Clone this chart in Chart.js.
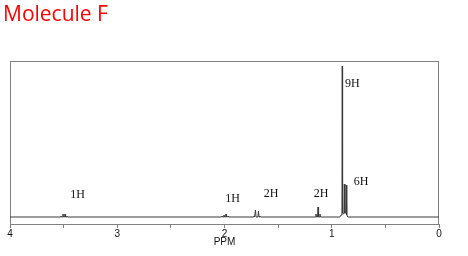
<!DOCTYPE html>
<html>
<head>
<meta charset="utf-8">
<script src="https://cdn.jsdelivr.net/npm/chart.js@4"></script>
<style>
  html, body { margin: 0; padding: 0; background: #fff; }
  #wrap { position: relative; width: 468px; height: 256px; }
  #title {
    position: absolute; left: 3px; top: 3px;
    font: 21px/21px "Open Sans", sans-serif; color: #ff0000;
  }
  canvas { position: absolute; left: 0; top: 0; }
</style>
</head>
<body>
<div id="wrap">
  <canvas id="nmrChart" width="468" height="256"></canvas>
  <div id="title">Molecule F</div>
</div>
<script>
// Spectrum trace (ppm, relative intensity)
const shift = [4.00,
  3.530, 3.525, 3.520, 3.511, 3.506, 3.501, 3.492, 3.487, 3.482, 3.474, 3.469, 3.464,
  2.028, 2.023, 2.018, 2.010, 2.005, 2.000, 1.991, 1.986, 1.981, 1.972, 1.967, 1.962,
  1.730, 1.725, 1.720, 1.716, 1.711, 1.706, 1.688, 1.683, 1.678, 1.674, 1.669, 1.664,
  1.152, 1.147, 1.142, 1.133, 1.128, 1.123, 1.115, 1.110, 1.105,
  0.925, 0.912, 0.905, 0.902, 0.899, 0.890, 0.886, 0.883, 0.878, 0.868, 0.865, 0.860, 0.850,
  0.00];
const intensity = [0,
  0, 1, 0, 0, 3, 0, 0, 3, 0, 0, 1, 0,
  0, 1, 0, 0, 2, 0, 0, 3, 0, 0, 1, 0,
  0, 1, 0, 0, 7, 0, 0, 6, 0, 0, 1, 0,
  0, 3, 0, 0, 10, 0, 0, 3, 0,
  0, 2, 4, 151, 4, 3, 4, 33, 4, 4, 32, 2, 0,
  0];

// Integration labels
const labelText = ['1H', '1H', '2H', '2H', '9H', '6H'];
const labelPpm = [3.371, 1.925, 1.566, 1.100, 0.807, 0.727];
const labelLevel = [22, 18, 23.5, 23.5, 133.5, 35];

// Axis
const axisMin = 0;
const axisMax = 4;
const axisStep = 0.5;

// Frame round the plot area
const framePlugin = {
  id: 'frame',
  beforeDatasetsDraw(chart) {
    const { ctx, chartArea: a } = chart;
    ctx.save();
    ctx.strokeStyle = '#808080';
    ctx.lineWidth = 1;
    ctx.strokeRect(a.left + 0.5, a.top + 0.5, a.right - a.left - 1, a.bottom - a.top);
    ctx.restore();
  }
};

// Integration text above the peaks
const labelPlugin = {
  id: 'peakLabels',
  afterDatasetsDraw(chart) {
    const { ctx, scales } = chart;
    ctx.save();
    ctx.font = '12px "Liberation Serif", serif';
    ctx.fillStyle = '#111';
    ctx.textAlign = 'center';
    ctx.textBaseline = 'middle';
    labelText.forEach((t, i) => {
      ctx.fillText(t, scales.x.getPixelForValue(labelPpm[i]), scales.y.getPixelForValue(labelLevel[i]));
    });
    ctx.restore();
  }
};

const ctx = document.getElementById('nmrChart').getContext('2d');

new Chart(ctx, {
  type: 'scatter',
  data: {
    datasets: [{
      data: shift.map((x, i) => ({ x: x, y: intensity[i] })),
      showLine: true,
      borderColor: '#3a3a3a',
      borderWidth: 1,
      pointRadius: 0,
      tension: 0
    }]
  },
  options: {
    responsive: false,
    animation: false,
    layout: { padding: { top: 61, left: 10, right: 29, bottom: 0 } },
    plugins: {
      legend: { display: false },
      tooltip: { enabled: false }
    },
    scales: {
      x: {
        type: 'linear',
        reverse: true,
        min: axisMin,
        max: axisMax,
        afterFit: function(scale) { scale.height = 32; },
        border: { color: '#808080', width: 1 },
        grid: { drawOnChartArea: false, tickLength: 4, color: '#808080' },
        ticks: {
          stepSize: axisStep,
          autoSkip: false,
          maxRotation: 0,
          padding: 0,
          color: '#111',
          font: { family: '"Liberation Sans", Arial, sans-serif', size: 10 },
          callback: function(value) {
            return Number.isInteger(value) ? String(value) : '';
          }
        },
        title: {
          display: true,
          text: 'PPM',
          color: '#111',
          padding: { top: 0, bottom: 8 },
          font: { family: '"Liberation Sans", Arial, sans-serif', size: 10 }
        }
      },
      y: {
        display: false,
        min: -7,
        max: 156
      }
    }
  },
  plugins: [framePlugin, labelPlugin]
});
</script>
</body>
</html>
